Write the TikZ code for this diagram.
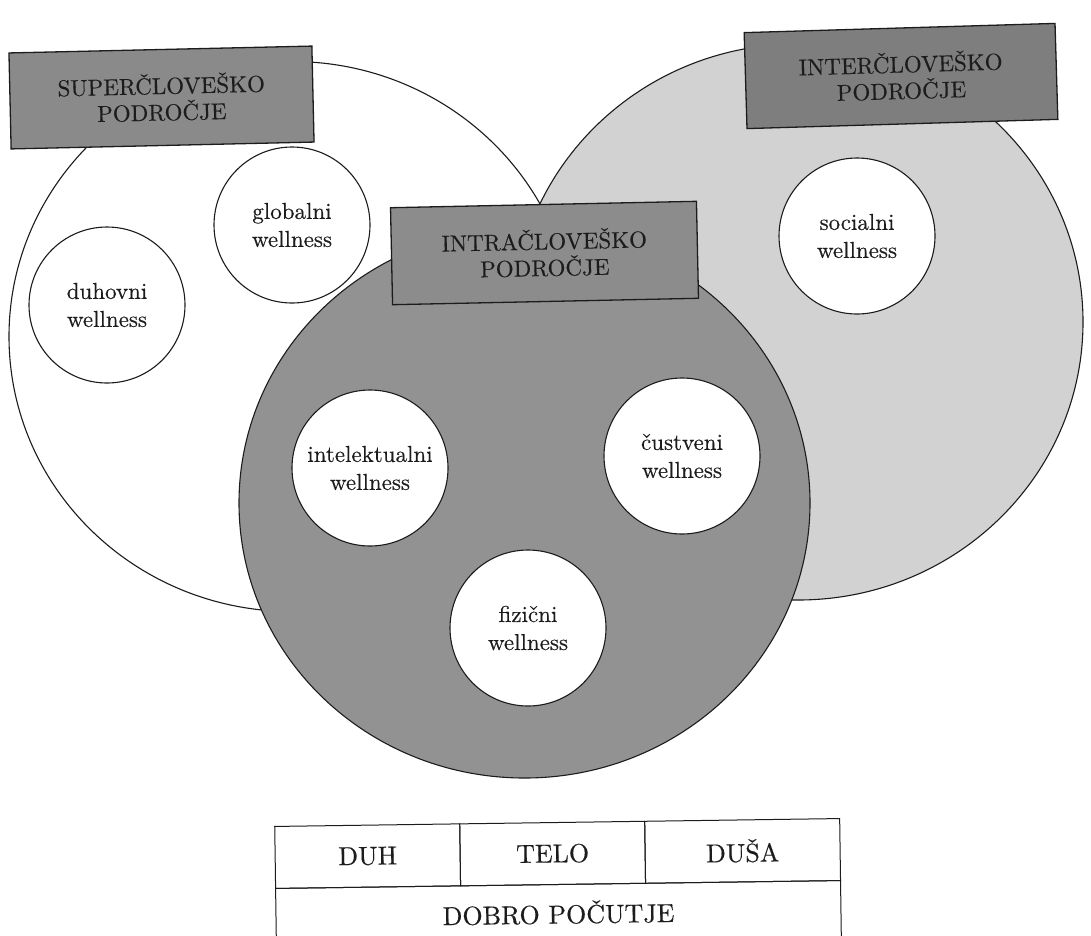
\documentclass[tikz,border=0pt]{standalone}
\usepackage{fontspec}
\setmainfont{lmroman10-regular.otf}[FakeBold=0.35]
\usetikzlibrary{shapes.geometric}

\definecolor{ink}{RGB}{28,28,28}
\definecolor{superfill}{RGB}{138,138,138}
\definecolor{interfill}{RGB}{126,126,126}
\definecolor{intrafill}{RGB}{140,140,140}
\definecolor{innerfill}{RGB}{146,146,146}
\definecolor{outerfill}{RGB}{210,210,210}

\begin{document}
\begin{tikzpicture}[x=1pt,y=-1pt,
  regionshape/.style={ellipse, draw=ink, line width=1.1pt, inner sep=0pt},
  facet/.style={circle, draw=ink, line width=1.1pt, fill=white,
    minimum size=156pt, inner sep=0pt, align=center, text=ink,
    font=\fontsize{23}{28}\selectfont},
  domainbox/.style={rectangle, draw=ink, line width=1.3pt, inner sep=0pt,
    align=center, text=ink, font=\fontsize{23}{26.5}\selectfont},
  tablecell/.style={rectangle, draw=ink, line width=1pt, inner sep=0pt,
    anchor=north west, text=ink, font=\fontsize{26}{28}\selectfont}]

\useasboundingbox (0,0) rectangle (1091,935);
\clip (0,0) rectangle (1091,935);

% the three domains
\node[regionshape, fill=white, minimum width=566pt, minimum height=550pt]
  (superarea) at (292,336.5) {};
\node[regionshape, fill=outerfill, minimum width=570pt, minimum height=556pt]
  (interarea) at (798,322) {};
\node[regionshape, fill=innerfill, minimum width=571pt, minimum height=550pt]
  (intraarea) at (524.5,503) {};

% wellness dimensions
\node[facet] (globalni) at (292,225) {globalni\\wellness};
\node[facet] (duhovni)  at (107,305) {duhovni\\wellness};
\node[facet] (socialni) at (857,236) {socialni\\wellness};
\node[facet] (intelekt) at (370,468) {intelektualni\\wellness};
\node[facet] (custveni) at (682,456) {čustveni\\wellness};
\node[facet] (fizicni)  at (528,628) {fizični\\wellness};

% domain labels
\node[domainbox, fill=superfill, minimum width=303pt, minimum height=96pt,
  rotate=1.3] (supertag) at (161.5,97.5) {SUPERČLOVEŠKO\\PODROČJE};
\node[domainbox, fill=interfill, minimum width=311pt, minimum height=96pt,
  rotate=1.7] (intertag) at (901,76) {INTERČLOVEŠKO\\PODROČJE};
\node[domainbox, fill=intrafill, minimum width=306pt, minimum height=97pt,
  rotate=1.2] (intratag) at (544.5,253) {INTRAČLOVEŠKO\\PODROČJE};

% summary table
\begin{scope}[rotate around={0.8:(557,880)}, transform shape]
  \node[tablecell, minimum width=185pt, minimum height=62pt] (duh)  at (275,822) {DUH};
  \node[tablecell, minimum width=185pt, minimum height=62pt] (telo) at (460,822) {TELO};
  \node[tablecell, minimum width=195pt, minimum height=62pt] (dusa) at (645,822) {DUŠA};
  \node[tablecell, minimum width=565pt, minimum height=56pt] (dobro) at (275,884) {DOBRO POČUTJE};
\end{scope}
\end{tikzpicture}
\end{document}
